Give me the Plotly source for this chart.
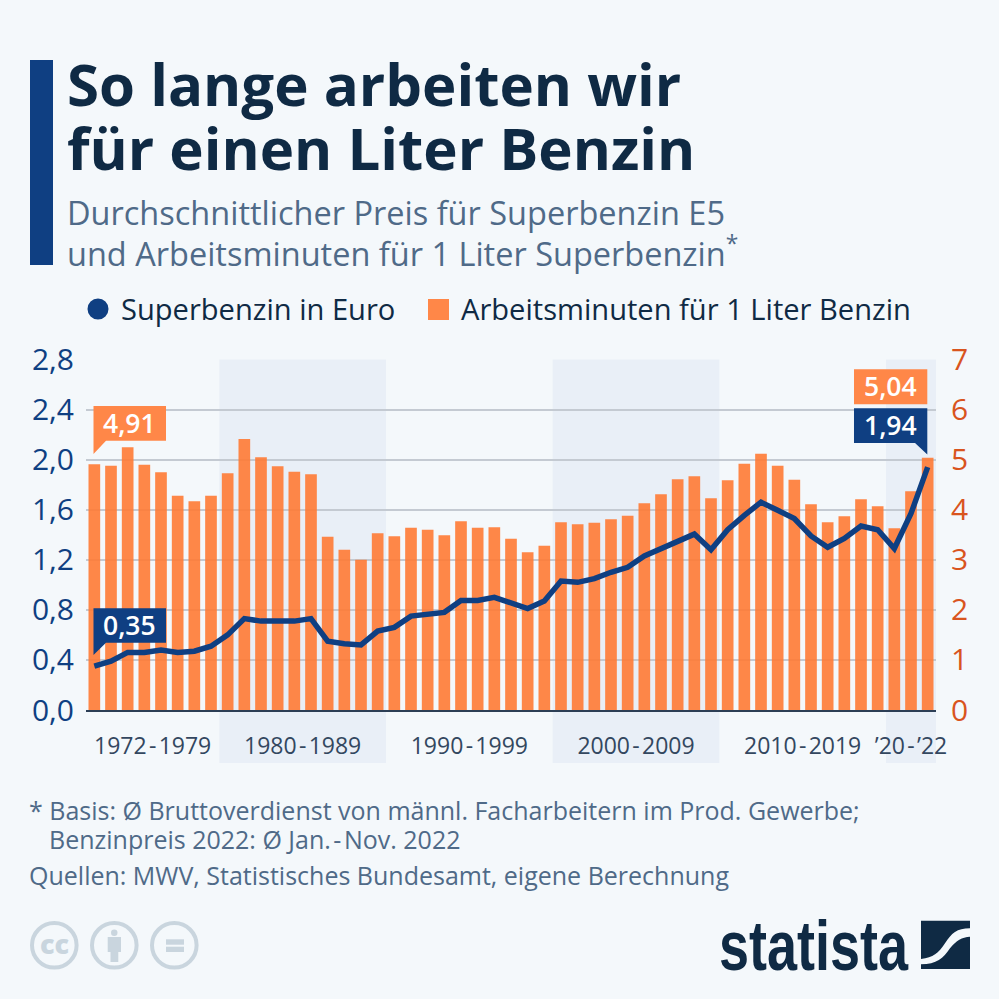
import plotly.graph_objects as go

W = 999
years = list(range(1972, 2023))
minutes = [4.91,4.88,5.25,4.90,4.75,4.28,4.17,4.28,4.73,5.41,5.05,4.87,4.76,4.71,3.46,3.20,3.00,3.53,3.47,3.64,3.60,3.49,3.77,3.64,3.65,
           3.42,3.15,3.28,3.75,3.71,3.74,3.81,3.88,4.13,4.31,4.61,4.67,4.23,4.59,4.92,5.12,4.88,4.60,4.11,3.75,3.87,4.21,4.07,3.63,4.37,5.04]
price = [0.35,0.39,0.46,0.46,0.48,0.46,0.47,0.51,0.60,0.73,0.71,0.71,0.71,0.73,0.55,0.53,0.52,0.63,0.66,0.75,0.77,0.78,0.875,0.875,0.90,
         0.85,0.81,0.87,1.03,1.02,1.05,1.10,1.14,1.23,1.29,1.34,1.405,1.28,1.44,1.555,1.66,1.595,1.53,1.39,1.30,1.37,1.47,1.44,1.29,1.57,1.94]
left_ticks = [0, 0.4, 0.8, 1.2, 1.6, 2.0, 2.4, 2.8]
left_labels = ["0,0", "0,4", "0,8", "1,2", "1,6", "2,0", "2,4", "2,8"]
right_ticks = [0, 1, 2, 3, 4, 5, 6, 7]
decades = ["1972\u200a-\u200a1979", "1980\u200a-\u200a1989", "1990\u200a-\u200a1999", "2000\u200a-\u200a2009", "2010\u200a-\u200a2019", "’20\u200a-\u200a’22"]
decade_centers = [1975.5, 1984.5, 1994.5, 2004.5, 2014.5, 2021]
bands = [(1979.5, 1989.5), (1999.5, 2009.5), (2019.5, 2022.5)]

BG = "#f4f8fb"; NAVY = "#0f3f82"; ORANGE = "#ff8748"; ORANGE_A = "rgba(255,122,52,0.9)"
DARK = "#0f2a44"; SLATE = "#4f6a88"; RUST = "#d9541e"; GREY = "#c9d5de"; FONT = "Open Sans"

def X(p): return p / W
def Y(p): return 1 - p / W

def path(points_cmds):
    out = []
    for c in points_cmds:
        if isinstance(c, str):
            out.append(c)
        else:
            out.append(f"{X(c[0]):.5f},{Y(c[1]):.5f}")
    return " ".join(out)

shapes = []
def add_path(cmds, color):
    shapes.append(dict(type="path", xref="paper", yref="paper", path=path(cmds), fillcolor=color, line_width=0, layer="above"))
def add_rect(x0, y0, x1, y1, color):
    shapes.append(dict(type="rect", xref="paper", yref="paper", x0=X(x0), x1=X(x1), y0=Y(y0), y1=Y(y1), fillcolor=color, line_width=0, layer="above"))

annotations = []
def txt(x, y, s, size, color, anchor="left", weight=None, family=FONT):
    f = dict(size=size, color=color, family=family)
    if weight: f["weight"] = weight
    annotations.append(dict(xref="paper", yref="paper", x=X(x), y=Y(y), text=s, showarrow=False, xanchor=anchor, yanchor="middle", font=f, align=anchor, borderpad=0))

# shaded decades
for a, b in bands:
    shapes.append(dict(type="rect", xref="x", yref="paper", x0=a, x1=b, y0=Y(763), y1=Y(359.5), fillcolor="#e9eff7", line_width=0, layer="below"))

# header
add_rect(30, 60, 53, 265, NAVY)
txt(66, 83, "So lange arbeiten wir", 58.2, DARK, weight=700)
txt(66, 147.5, "für einen Liter Benzin", 58.2, DARK, weight=700)
txt(66, 212, "Durchschnittlicher Preis für Superbenzin E5", 32.5, SLATE)
txt(66, 251.5, "und Arbeitsminuten für 1 Liter Superbenzin<sup>*</sup>", 32.5, SLATE)

# legend
shapes.append(dict(type="circle", xref="paper", yref="paper", x0=X(87.5), x1=X(108.5), y0=Y(319.5), y1=Y(298.5), fillcolor=NAVY, line_width=0))
add_rect(428, 299, 449, 320, ORANGE)
txt(120, 308.5, "Superbenzin in Euro", 29.1, DARK)
txt(460, 308.5, "Arbeitsminuten für 1 Liter Benzin", 29.1, DARK)

# callouts
add_path(["M", (93.5, 406), "L", (166, 406), "L", (166, 440.7), "L", (106, 440.7), "L", (93.5, 454), "Z"], ORANGE)
add_path(["M", (93.5, 608.3), "L", (166, 608.3), "L", (166, 642.7), "L", (106, 642.7), "L", (93.5, 655), "Z"], NAVY)
add_rect(854, 369.3, 927.3, 404.3, ORANGE)
add_path(["M", (854, 408.3), "L", (927.3, 408.3), "L", (927.3, 454.5), "L", (915, 443), "L", (854, 443), "Z"], NAVY)
txt(129, 423, "4,91", 26.5, "white", "center", 600)
txt(129.5, 625, "0,35", 26.5, "white", "center", 600)
txt(890.5, 386, "5,04", 26.5, "white", "center", 600)
txt(890.5, 425, "1,94", 26.5, "white", "center", 600)

# footer text
txt(28, 810, "* Basis: Ø Bruttoverdienst von männl. Facharbeitern im Prod. Gewerbe;", 25, SLATE)
txt(48, 839, "Benzinpreis 2022: Ø Jan.\u200a-\u200aNov. 2022", 25, SLATE)
txt(28, 875, "Quellen: MWV, Statistisches Bundesamt, eigene Berechnung", 25, SLATE)

# licence icons
for cx in (54.3, 114.3, 174.3):
    shapes.append(dict(type="circle", xref="paper", yref="paper", x0=X(cx-22.3), x1=X(cx+22.3), y0=Y(945.3+22.3), y1=Y(945.3-22.3),
                       fillcolor="rgba(0,0,0,0)", line=dict(color=GREY, width=4)))
txt(54.3, 943, "cc", 27, GREY, "center", 800)
shapes.append(dict(type="circle", xref="paper", yref="paper", x0=X(111), x1=X(117.5), y0=Y(936), y1=Y(929.5), fillcolor=GREY, line_width=0))
add_rect(107.7, 937, 121, 952, GREY)
add_rect(110.5, 952, 118.3, 962, GREY)
add_rect(166, 939.3, 184, 944.7, GREY)
add_rect(166, 946.7, 184, 952, GREY)

# logo
txt(813.5, 944.5, "statista", 54, DARK, "center", 700, "Liberation Sans")
def z(a, b): return (700 + a / 3, 905 + b / 3)
add_path(["M", z(663,47), "L", z(810,47), "L", z(810,70), "C", z(770,70), z(755,85), z(735,115), "C", z(715,145), z(700,158), z(663,162), "Z"], DARK)
add_path(["M", z(810,95), "L", z(810,192), "L", z(663,192), "L", z(663,178), "C", z(710,178), z(730,160), z(750,130), "C", z(770,105), z(785,97), z(810,95), "Z"], DARK)

fig = go.Figure()
fig.add_trace(go.Bar(x=years, y=minutes, name="Arbeitsminuten für 1 Liter Benzin", yaxis="y", width=0.7,
                     marker=dict(color=ORANGE_A, line_width=0)))
fig.add_trace(go.Scatter(x=years, y=price, name="Superbenzin in Euro", yaxis="y2", mode="lines",
                         line=dict(color=NAVY, width=5.5, shape="linear"), cliponaxis=False))

fig.update_layout(
    width=W, height=W, margin=dict(l=0, r=0, t=0, b=0, pad=0, autoexpand=False), autosize=False,
    paper_bgcolor=BG, plot_bgcolor="rgba(0,0,0,0)", showlegend=False,
    font=dict(family=FONT), shapes=shapes, annotations=annotations,
    xaxis=dict(domain=[X(86), X(936)], range=[1971.5, 2022.5], tickmode="array", tickvals=decade_centers, ticktext=decades,
               tickfont=dict(size=23, color="#33475f"), ticks="outside", ticklen=14, tickcolor="rgba(0,0,0,0)",
               showgrid=False, showline=True, linecolor="#2c3e55", linewidth=2, zeroline=False, anchor="y"),
    yaxis=dict(domain=[Y(710), Y(359.5)], range=[0, 7], side="right", tickmode="array", tickvals=right_ticks,
               tickfont=dict(size=30, color=RUST), showgrid=True, gridcolor="#c4cad2", gridwidth=1.5, zeroline=False, anchor="x",
               ticks="outside", ticklen=8, tickcolor="rgba(0,0,0,0)"),
    yaxis2=dict(domain=[Y(710), Y(359.5)], range=[0, 2.8], side="left", overlaying="y", tickmode="array", tickvals=left_ticks, ticktext=left_labels,
                tickfont=dict(size=30, color=NAVY), showgrid=False, zeroline=False, anchor="x",
                ticks="outside", ticklen=5, tickcolor="rgba(0,0,0,0)"),
)
post = """
document.body.style.margin='0';document.body.style.background='%s';
document.querySelectorAll('.annotation-text').forEach(function(t){
  if(t.textContent==='statista'){
    var b=t.getBBox();var cy=b.y+b.height/2;var prev=t.getAttribute('transform')||'';
    t.setAttribute('transform','translate(0,'+cy+') scale(1,1.3) translate(0,'+(-cy)+') '+prev);
  }
});
""" % BG
fig.write_html("out.html", config=dict(displayModeBar=False), post_script=post)
